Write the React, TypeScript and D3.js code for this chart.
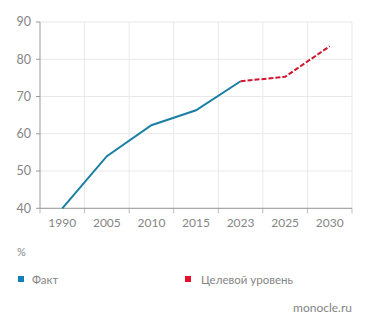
import React from "react";
import * as d3 from "d3";

const years = ["1990", "2005", "2010", "2015", "2023", "2025", "2030"];
const factValues = [40, 54.0, 62.3, 66.3, 74.1];
const factYears = ["1990", "2005", "2010", "2015", "2023"];
const targetYears = ["2023", "2025", "2030"];
const targetValues = [74.1, 75.3, 83.5];
const yTicks = [40, 50, 60, 70, 80, 90];

const W = 371, H = 330;
const M = { left: 40, right: 352, top: 22, bottom: 208.3 };
const FONT = "Lato, 'Open Sans', sans-serif";
const TXT = "#858585";

export default function App() {
  const x = d3.scaleBand<string>().domain(years).range([M.left, M.right]);
  const y = d3.scaleLinear().domain([40, 90]).range([M.bottom, M.top]);
  const cx = (d: string) => (x(d) as number) + x.bandwidth() / 2;
  const line = d3.line<[string, number]>().x((d) => cx(d[0])).y((d) => y(d[1]));
  const factPts = factYears.map((d, i) => [d, factValues[i]] as [string, number]);
  const targetPts = targetYears.map((d, i) => [d, targetValues[i]] as [string, number]);
  const edges = years.map((d) => x(d) as number).concat([M.right]);

  return (
    <svg width={W} height={H} style={{ position: "absolute", left: 0, top: 0 }} fontFamily={FONT}>
      <rect width={W} height={H} fill="#fff" />
      {yTicks.map((t) => (
        <g key={t}>
          <line x1={M.left} x2={M.right} y1={y(t)} y2={y(t)} stroke="#e8e8e8" />
          <line x1={M.left - 4} x2={M.left} y1={y(t)} y2={y(t)} stroke="#999" />
          <text x={31} y={y(t)} dy="0.35em" textAnchor="end" fontSize={12.5} fill={TXT}>{t}</text>
        </g>
      ))}
      {edges.map((e, i) => (
        <g key={i}>
          {i > 0 && <line x1={e} x2={e} y1={M.top} y2={M.bottom} stroke="#e8e8e8" />}
          <line x1={e} x2={e} y1={M.bottom} y2={M.bottom + 5} stroke="#bbb" />
        </g>
      ))}
      <line x1={M.left} x2={M.left} y1={M.top} y2={M.bottom} stroke="#999" />
      <line x1={M.left} x2={M.right} y1={M.bottom} y2={M.bottom} stroke="#999" />
      {years.map((d) => (
        <text key={d} x={cx(d)} y={223} dy="0.35em" textAnchor="middle" fontSize={12} fill={TXT}>{d}</text>
      ))}
      <path d={line(factPts) as string} fill="none" stroke="#1a7fa3" strokeWidth={2} />
      <path d={line(targetPts) as string} fill="none" stroke="#d3142e" strokeWidth={2} strokeDasharray="5,2" />
      <text x={17} y={252} dy="0.35em" fontSize={11} fill={TXT}>%</text>
      <rect x={18} y={276} width={6} height={6} fill="#1380b8" />
      <text x={32} y={279.5} dy="0.35em" fontSize={11.5} fill={TXT}>Факт</text>
      <rect x={185} y={276} width={6} height={6} fill="#e5102a" />
      <text x={201} y={279.5} dy="0.35em" fontSize={11.5} fill={TXT}>Целевой уровень</text>
      <text x={352} y={307.5} dy="0.35em" textAnchor="end" fontSize={12} fill={TXT}>monocle.ru</text>
    </svg>
  );
}
